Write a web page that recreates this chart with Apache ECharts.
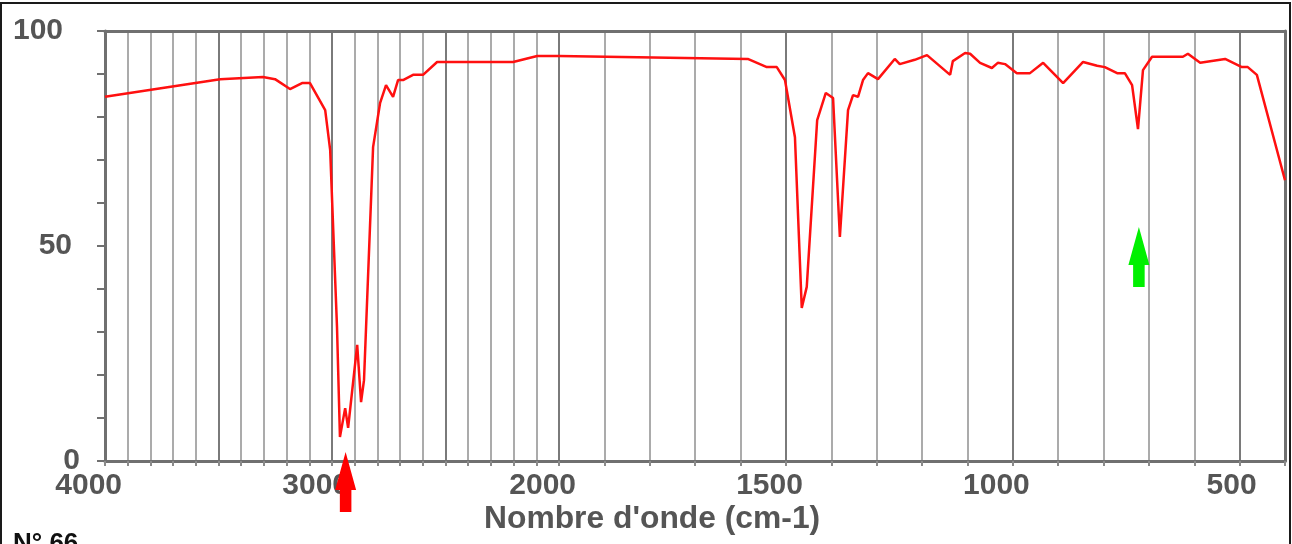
<!DOCTYPE html>
<html>
<head>
<meta charset="utf-8">
<script src="https://cdn.jsdelivr.net/npm/echarts@6/dist/echarts.min.js"></script>
<style>
html, body { margin: 0; padding: 0; background: #fff; }
#main { width: 1292px; height: 544px; }
</style>
</head>
<body>
<div id="main"></div>
<script>
// spectrum: wavenumber (cm-1) / transmittance (%)
var waveNumbers = [4000, 3493, 3304, 3251, 3185, 3132, 3097, 3030, 3008, 2995, 2978, 2965, 2942, 2929, 2889, 2872, 2859, 2819, 2788, 2762, 2731, 2709, 2687, 2643, 2599, 2537, 2202, 2096, 2000,
    1584, 1542, 1520, 1502, 1480, 1465, 1454, 1431, 1412, 1396, 1381, 1363, 1352, 1341, 1330, 1319, 1297, 1260, 1249, 1216, 1189, 1138, 1132, 1105, 1094, 1072, 1046, 1033, 1017,
    991, 962, 933, 889, 845, 814, 797, 770, 753, 737, 724, 713, 693, 625, 614, 587, 532, 495, 482, 462, 400];
var transmittance = [84.7, 88.8, 89.3, 88.8, 86.5, 87.9, 87.9, 81.6, 72.3, 54.4, 31.2, 5.6, 12.3, 7.7, 27.0, 13.7, 18.8, 73.0, 83.3, 87.4, 84.7, 88.6, 88.6, 89.8, 89.8, 92.8, 92.8, 94.2, 94.2,
    93.5, 91.6, 91.6, 88.6, 75.3, 35.6, 40.5, 79.3, 85.6, 84.4, 52.1, 81.6, 85.1, 84.7, 88.6, 90.2, 88.8, 93.5, 92.3, 93.3, 94.4, 89.8, 93.0, 94.9, 94.7, 92.6, 91.4, 92.6, 92.3,
    90.2, 90.2, 92.6, 87.9, 92.8, 91.9, 91.6, 90.2, 90.2, 87.4, 77.2, 90.9, 94.0, 94.0, 94.7, 92.6, 93.5, 91.6, 91.6, 89.8, 65.3];

// tick labels
var xLabelsHigh = [4000, 3000];
var xLabelsLow = [2000, 1500, 1000, 500];
var yLabels = [0, 50, 100];

// arrows pointing at bands (wavenumber, transmittance at the tip)
var arrowBands = [2940, 722];
var arrowTips = [2.1, 54.4];
var arrowColors = ['#ff0000', '#00f000'];

var myChart = echarts.init(document.getElementById('main'));

var highPart = [], lowPart = [];
for (var i = 0; i < waveNumbers.length; i++) {
    if (waveNumbers[i] >= 2000) highPart.push([waveNumbers[i], transmittance[i]]);
    if (waveNumbers[i] <= 2000) lowPart.push([waveNumbers[i], transmittance[i]]);
}

var arrowPath = 'path://M10,0L20,38L15.5,38L15.5,60L4.5,60L4.5,38L0,38Z';
function arrows(high) {
    var out = [];
    for (var i = 0; i < arrowBands.length; i++) {
        if ((arrowBands[i] >= 2000) === high) {
            out.push({
                coord: [arrowBands[i], arrowTips[i]],
                itemStyle: { color: arrowColors[i] }
            });
        }
    }
    return out;
}

var labelFont = { fontSize: 30, fontWeight: 'bold', color: '#555', fontFamily: 'Liberation Sans, Arial' };
var axisGray = '#707070';
var minorGray = '#ababab';
var majorGray = '#7a7a7a';

function xAxisBottom(grid, min, max, labels, colors) {
    return {
        type: 'value', gridIndex: grid, min: min, max: max, interval: 100, inverse: true,
        position: 'bottom',
        axisLine: { show: true, onZero: false, lineStyle: { color: axisGray, width: 3 } },
        axisTick: { show: true, length: 5, lineStyle: { color: '#8a8a8a', width: 2 } },
        axisLabel: Object.assign({
            interval: 0, showMinLabel: true, showMaxLabel: true, margin: 10,
            align: 'right', padding: [0, -17, 0, 0],
            formatter: function (v) { return labels.indexOf(v) >= 0 ? String(v) : ''; }
        }, labelFont),
        splitLine: { show: true, lineStyle: { color: colors, width: 2 } }
    };
}
function xAxisTop(grid, min, max) {
    return {
        type: 'value', gridIndex: grid, min: min, max: max, inverse: true, position: 'top',
        axisLine: { show: true, onZero: false, lineStyle: { color: axisGray, width: 3 } },
        axisTick: { show: false }, axisLabel: { show: false }, splitLine: { show: false }
    };
}

var yPad = { 0: 0, 50: 8, 100: 17 };

var option = {
    animation: false,
    backgroundColor: '#fff',
    title: [{
        text: "Nombre d'onde (cm-1)",
        left: 484, top: 503, padding: 0,
        textStyle: { fontSize: 31.8, fontWeight: 'bold', color: '#555', fontFamily: 'Liberation Sans, Arial' }
    }, {
        text: 'N° 66',
        left: 13, top: 531, padding: 0,
        textStyle: { fontSize: 26, fontWeight: 'bold', color: '#111', fontFamily: 'Liberation Sans, Arial' }
    }],
    graphic: [{
        type: 'rect', silent: true, z: 100,
        shape: { x: 1, y: 3, width: 1289, height: 700 },
        style: { fill: 'none', stroke: '#1a1a1a', lineWidth: 2 }
    }],
    grid: [
        { left: 105, top: 31, width: 454, height: 430 },
        { left: 559, top: 31, width: 726, height: 430 }
    ],
    xAxis: [
        xAxisBottom(0, 2000, 4000, xLabelsHigh, [majorGray, minorGray, minorGray, minorGray, minorGray]),
        xAxisBottom(1, 400, 2000, xLabelsLow, [minorGray, majorGray, minorGray, minorGray, minorGray]),
        xAxisTop(0, 2000, 4000),
        xAxisTop(1, 400, 2000)
    ],
    yAxis: [{
        type: 'value', gridIndex: 0, min: 0, max: 100, interval: 10,
        axisLine: { show: true, lineStyle: { color: axisGray, width: 3 } },
        axisTick: { show: true, length: 8, lineStyle: { color: axisGray, width: 2 } },
        axisLabel: {
            margin: 25, align: 'right',
            formatter: function (v) { return yLabels.indexOf(v) >= 0 ? '{p' + v + '|' + v + '}' : ''; },
            rich: {
                p0: Object.assign({ padding: [0, yPad[0], 0, 0] }, labelFont),
                p50: Object.assign({ padding: [0, yPad[50], 0, 0] }, labelFont),
                p100: Object.assign({ padding: [0, yPad[100], 0, 0] }, labelFont)
            }
        },
        splitLine: { show: false }
    }, {
        type: 'value', gridIndex: 1, min: 0, max: 100, position: 'right',
        axisLine: { show: true, lineStyle: { color: axisGray, width: 3 } },
        axisTick: { show: false }, axisLabel: { show: false }, splitLine: { show: false }
    }],
    series: [{
        name: 'high', type: 'line', xAxisIndex: 0, yAxisIndex: 0,
        data: highPart, symbol: 'none', z: 3,
        lineStyle: { color: '#ff1010', width: 2.5 },
        markPoint: {
            symbol: arrowPath, symbolSize: [21, 60], symbolOffset: [0, '50%'],
            silent: true, label: { show: false }, data: arrows(true)
        }
    }, {
        name: 'low', type: 'line', xAxisIndex: 1, yAxisIndex: 1,
        data: lowPart, symbol: 'none', z: 3,
        lineStyle: { color: '#ff1010', width: 2.5 },
        markPoint: {
            symbol: arrowPath, symbolSize: [21, 60], symbolOffset: [0, '50%'],
            silent: true, label: { show: false }, data: arrows(false)
        }
    }]
};
myChart.setOption(option);
</script>
</body>
</html>
